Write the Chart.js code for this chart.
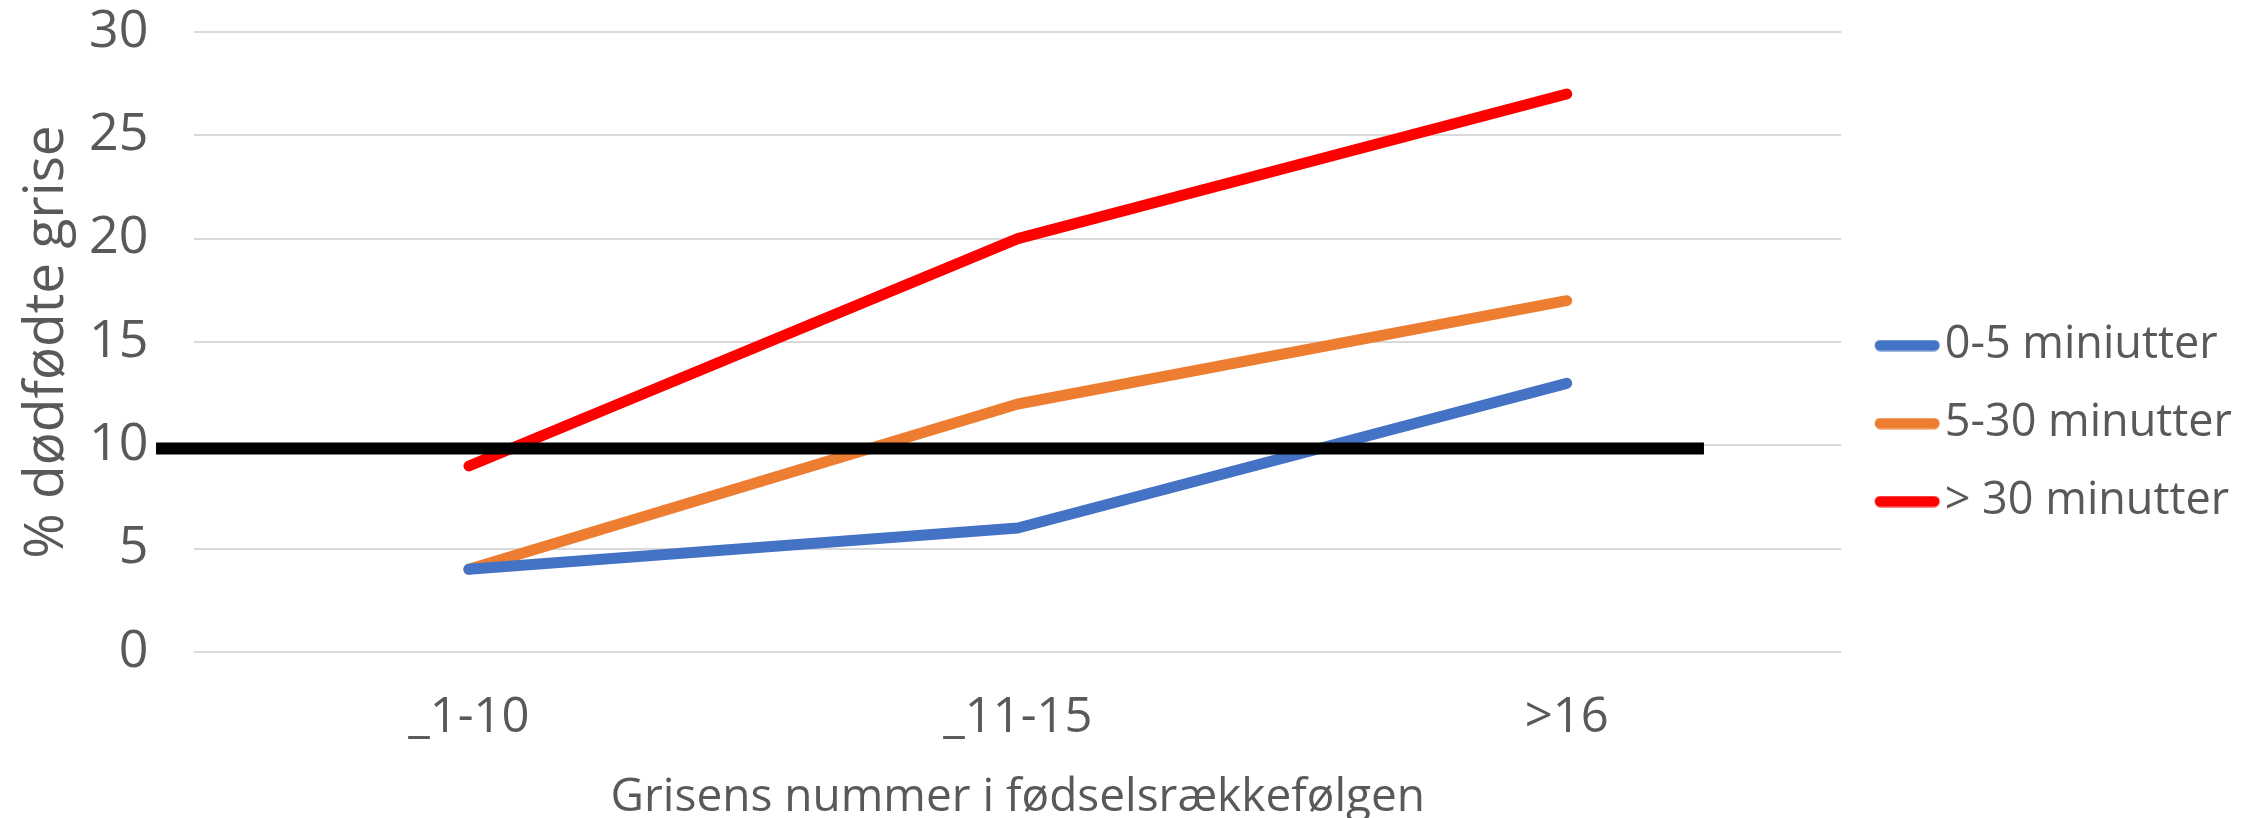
<!DOCTYPE html>
<html>
<head>
<meta charset="utf-8">
<script src="https://cdn.jsdelivr.net/npm/chart.js@4"></script>
<style>
  html, body { margin: 0; padding: 0; background: #fff; }
  #wrap { width: 2262px; height: 818px; }
</style>
</head>
<body>
<div id="wrap"><canvas id="chart"></canvas></div>
<script>
const categories = ["_1-10", "_11-15", ">16"];
const seriesNames = ["0-5 miniutter", "5-30 minutter", "> 30 minutter"];
const fast = [4, 6, 13];
const medium = [4, 12, 17];
const slow = [9, 20, 27];
const colors = ["#4472c4", "#ed7d31", "#ff0000"];
const yTicks = [0, 5, 10, 15, 20, 25, 30];

// the black reference line (value, and where it starts / stops in category units)
const refValue = 9.85;
const refFrom = -0.57;
const refTo = 2.25;

const textColor = "#595959";
const fontFamily = "'Open Sans', sans-serif";

// rounded line used as the legend marker (drawn in the right part of the image)
function legendLine(color) {
  const c = document.createElement("canvas");
  c.width = 134;
  c.height = 12;
  const g = c.getContext("2d");
  g.strokeStyle = color;
  g.lineWidth = 11;
  g.lineCap = "round";
  g.beginPath();
  g.moveTo(49, 6);
  g.lineTo(103, 6);
  g.stroke();
  return c;
}

const refLine = {
  id: "refLine",
  afterDatasetsDraw(chart) {
    const ctx = chart.ctx;
    const x = chart.scales.x;
    const y = chart.scales.y;
    const py = y.getPixelForValue(refValue);
    ctx.save();
    ctx.strokeStyle = "#000";
    ctx.lineWidth = 12;
    ctx.beginPath();
    ctx.moveTo(x.getPixelForValue(refFrom), py);
    ctx.lineTo(x.getPixelForValue(refTo), py);
    ctx.stroke();
    ctx.restore();
  }
};

const seriesData = [fast, medium, slow];

new Chart(document.getElementById("chart"), {
  type: "line",
  data: {
    labels: categories,
    datasets: seriesNames.map((name, i) => ({
      label: name,
      data: seriesData[i],
      borderColor: colors[i],
      backgroundColor: colors[i],
      borderWidth: 11,
      borderCapStyle: "round",
      borderJoinStyle: "round",
      pointStyle: legendLine(colors[i]),
      pointRadius: 0,
      tension: 0
    }))
  },
  options: {
    responsive: true,
    maintainAspectRatio: false,
    animation: false,
    layout: { padding: { top: 0, right: 20, bottom: -7, left: 14 } },
    plugins: {
      legend: {
        position: "right",
        title: { display: true, text: " ", font: { size: 10 }, padding: 5 },
        labels: {
          usePointStyle: true,
          pointStyleWidth: 48,
          boxHeight: 11,
          padding: 33,
          color: textColor,
          font: { family: fontFamily, size: 45 }
        }
      },
      tooltip: { enabled: false }
    },
    scales: {
      x: {
        offset: true,
        grid: { display: false },
        border: { display: false },
        ticks: {
          color: textColor,
          padding: 29,
          font: { family: fontFamily, size: 49 }
        },
        title: {
          display: true,
          text: "Grisens nummer i fødselsrækkefølgen",
          color: textColor,
          padding: { top: -7, bottom: 0 },
          font: { family: fontFamily, size: 46 }
        }
      },
      y: {
        min: 0,
        max: 30,
        afterBuildTicks(axis) {
          axis.ticks = yTicks.map(v => ({ value: v }));
        },
        afterFit(axis) {
          // keep the tick gap from adding space above the plot
          axis.paddingTop = 32;
          axis.paddingBottom = 31;
        },
        grid: { color: "#d9d9d9", lineWidth: 2, drawTicks: false },
        border: { display: false },
        ticks: {
          color: textColor,
          padding: 46,
          font: { family: fontFamily, size: 52 }
        },
        title: {
          display: true,
          text: "% dødfødte grise",
          color: textColor,
          padding: { top: 0, bottom: -37 },
          font: { family: fontFamily, size: 55 }
        }
      }
    }
  },
  plugins: [refLine]
});
</script>
</body>
</html>
